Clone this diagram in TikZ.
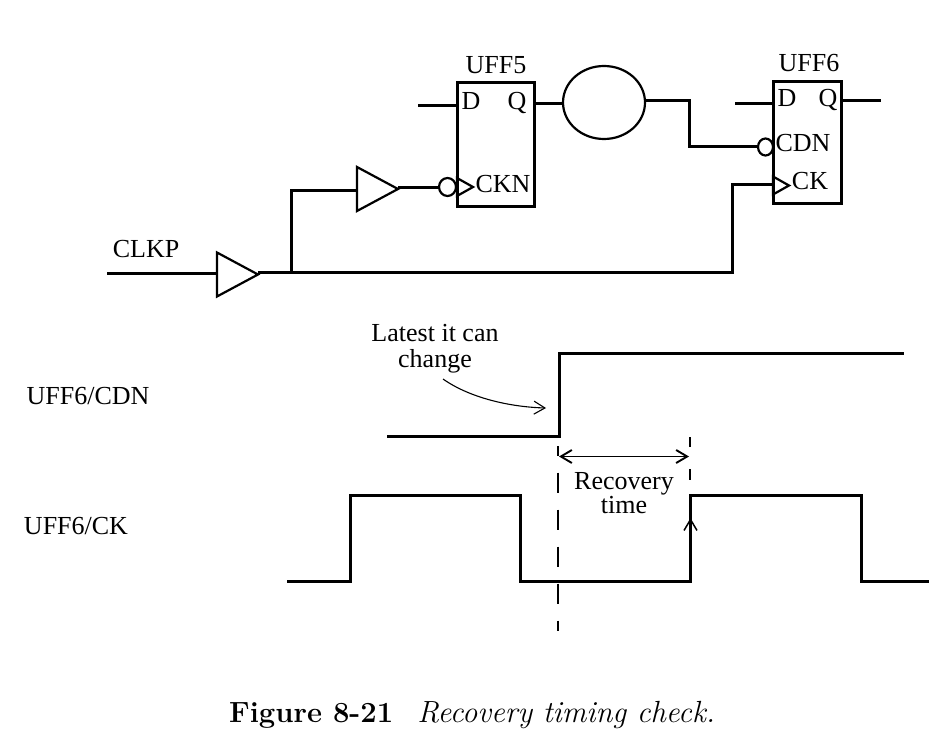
\documentclass[tikz,border=0pt]{standalone}
\usepackage{fontspec}
\setmainfont{Liberation Serif}
\newfontfamily\capfont{Latin Modern Roman}
\usetikzlibrary{arrows.meta,shapes.geometric}

\tikzset{
    x=1pt,y=-1pt,
    >={Straight Barb[length=11pt,width=13pt]},
    wire/.style={line width=3pt,line join=miter},
    flop/.style={draw,line width=3pt,rectangle,outer sep=0pt,inner sep=0pt},
    buffer/.style={draw,line width=2.2pt,isosceles triangle,isosceles triangle stretches,minimum width=44pt,minimum height=41pt,inner sep=0pt,outer sep=0pt,anchor=lower side},
    clkmark/.style={draw,line width=2.2pt,isosceles triangle,isosceles triangle stretches,minimum width=18pt,minimum height=16pt,inner sep=0pt,outer sep=0pt,anchor=lower side},
    bubble/.style={draw,line width=2.2pt,ellipse,inner sep=0pt,outer sep=0pt},
    txt/.style={font=\fontsize{26}{30}\selectfont,inner sep=0pt},
    pinlabel/.style={txt,text depth=0pt},
    thinline/.style={line width=1.9pt},
}

\begin{document}
\begin{tikzpicture}

\useasboundingbox (0,0) rectangle (949,746);

% flip flops
\node[flop,minimum width=77pt,minimum height=123pt] (uff5) at (495.5,144.5) {};
\node[flop,minimum width=68pt,minimum height=121pt] (uff6) at (807,142.5) {};

\foreach \nm/\px/\py/\lab in {uff5name/496/64.7/UFF5,uff6name/809/63/UFF6,d5/471/101/D,q5/517/101/Q,ckn/503/184/CKN,d6/787/98/D,q6/828/98/Q,cdn/803/143/CDN,ck6/810/180.5/CK,clkp/146/249/CLKP,cdnsig/88/396/{UFF6/CDN},cksig/76/526/{UFF6/CK}}
    \node[pinlabel] (\nm) at (\px,\py) {\lab};

% gates
\node[buffer] (buf1) at (217,274.5) {};
\node[buffer] (buf2) at (357,189) {};
\node[bubble,minimum width=82pt,minimum height=73pt] (oval) at (604,102.5) {};
\node[bubble,minimum width=17pt,minimum height=18pt] (inv5) at (447.5,187) {};
\node[bubble,minimum width=15pt,minimum height=17pt] (inv6) at (765.5,147) {};
\node[clkmark] (ckm5) at (457,187) {};
\node[clkmark] (ckm6) at (773,185.5) {};

\coordinate (clkin) at (107,273);
\coordinate (split) at (291,272);
\coordinate (din5) at (418,106);
\coordinate (din6) at (735,104);
\coordinate (qout6) at (881,101);
\coordinate (ckrise) at (732,184.5);
\coordinate (cdnbend) at (689,147);

\draw[wire] (clkin) -- (clkin -| buf1.lower side);
\draw[wire] (split -| buf1.apex) -- (split);
\draw[wire] (split) -- (291,190) -- (buf2.lower side |- 0,190);
\draw[wire] (buf2.apex |- inv5) -- (inv5.west);
\draw[wire] (split) -- (split -| ckrise) -- (ckrise) -- (ckrise -| uff6.west);
\draw[wire] (din5) -- (din5 -| uff5.west);
\draw[wire] (uff5.east |- 0,104) -- (oval.west |- 0,104);
\draw[wire] (oval.east |- 0,101) -- (cdnbend |- 0,101) -- (cdnbend) -- (inv6.west);
\draw[wire] (din6) -- (din6 -| uff6.west);
\draw[wire] (uff6.east |- qout6) -- (qout6);

% waveforms
\draw[wire] (387,436.5) -- (559,436.5) -- (559,353) -- (904,353);
\draw[wire] (287,581) -- (350,581) -- (350,495) -- (520,495) -- (520,581) -- (690,581) -- (690,495) -- (861,495) -- (861,581) -- (929,581);

\draw[line width=2.6pt,dash pattern=on 20pt off 17pt] (558,472.5) -- (558,631);
\draw[line width=2.6pt] (558,446) -- (558,456);
\draw[line width=2.6pt,dash pattern=on 10pt off 22pt on 11pt off 100pt] (690,437) -- (690,480);

\node[txt,align=center,font=\fontsize{26}{26}\selectfont] (latest) at (435,349) {Latest it can\\change};
\node[txt,align=center,font=\fontsize{26}{24}\selectfont] (rectime) at (624,493) {Recovery\\time};

\coordinate (noteend) at (546,408);
\draw[->,line width=1.1pt] (443,379) .. controls (470,398) and (510,407) .. (noteend);
\coordinate (recl) at (559,456.5);
\coordinate (recr) at (689,456.5);
\draw[<->,thinline] (recl) -- (recr);
\coordinate (edge) at (690.5,518);
\draw[->,line width=1.5pt] (690.5,530) -- (edge);

% caption
\node[anchor=base west,inner sep=0pt,font=\capfont\fontsize{29.2}{32}\selectfont] (figcap) at (229,722) {\textbf{Figure 8-21}\hspace{24pt}{\fontsize{30.6}{32}\selectfont\textit{Recovery timing check.}}};

\end{tikzpicture}
\end{document}
